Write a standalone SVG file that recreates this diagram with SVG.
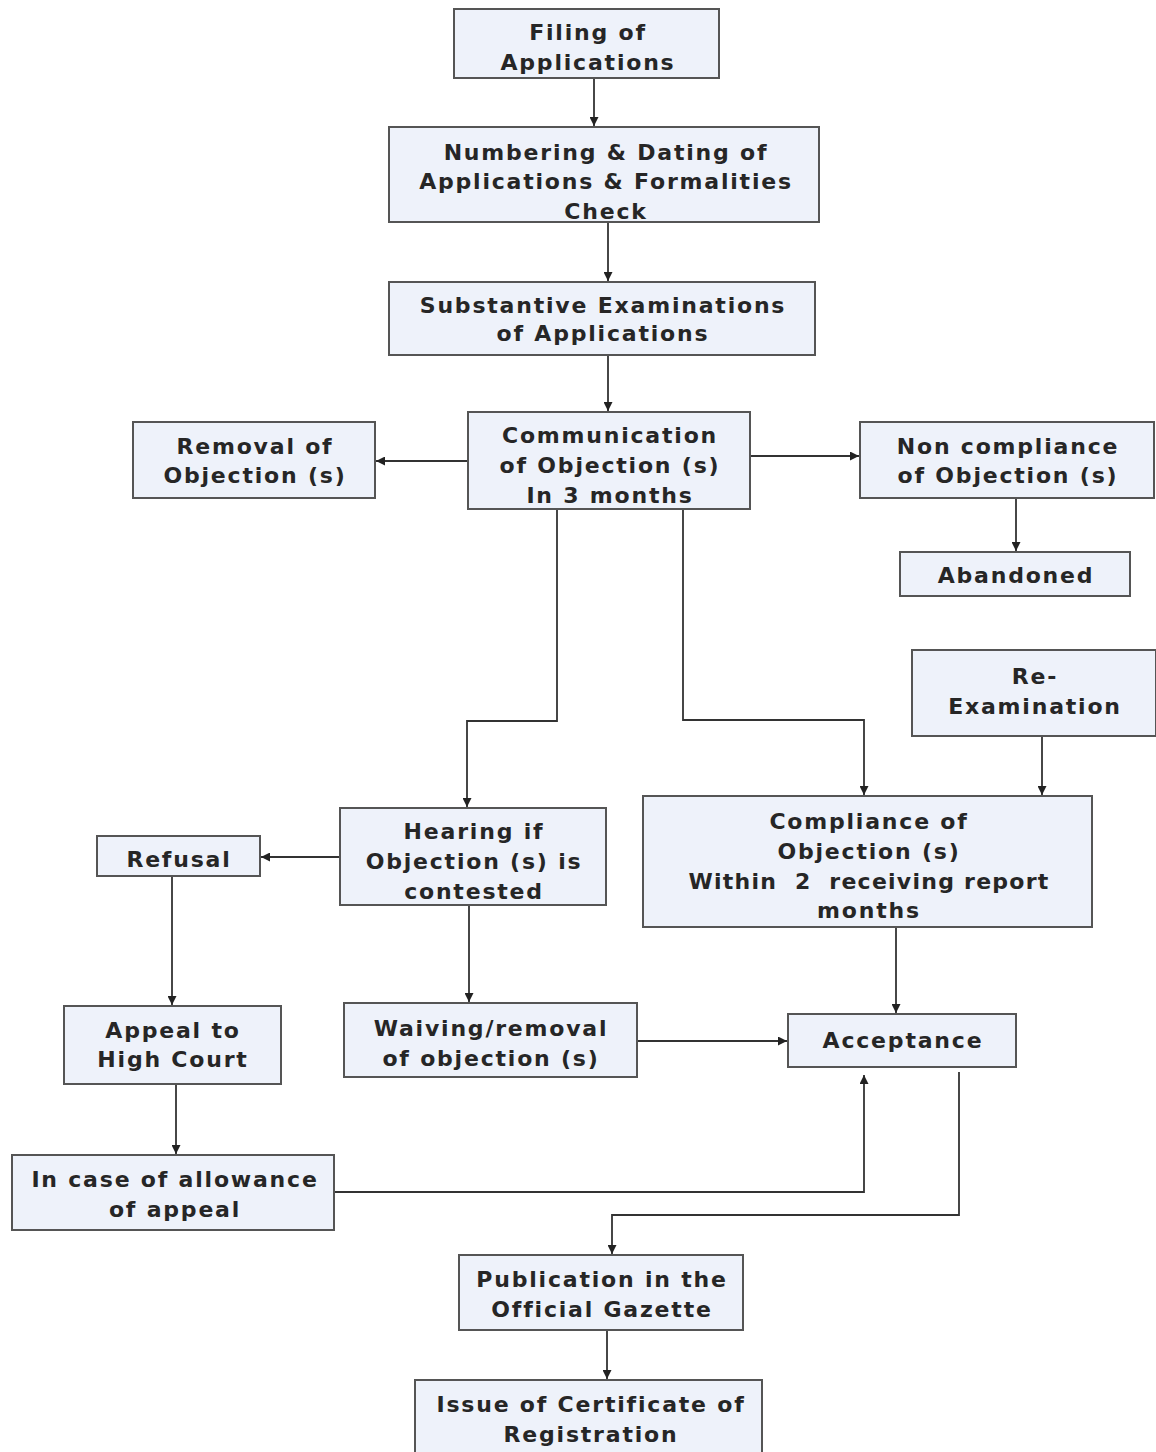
<svg xmlns="http://www.w3.org/2000/svg" width="1156" height="1452" viewBox="0 0 1156 1452">
<style>
.box{fill:#eef2fa;stroke:#555;stroke-width:2}
text{font-family:"DejaVu Sans",Verdana,sans-serif;font-weight:bold;font-size:22px;fill:#262626;text-anchor:middle;letter-spacing:1.8px}
.pre{white-space:pre;letter-spacing:1.25px}
.c{fill:none;stroke:#333;stroke-width:1.8}
</style>
<defs>
<marker id="ah" viewBox="0 0 10 10" refX="10" refY="5" markerWidth="10" markerHeight="9" markerUnits="userSpaceOnUse" orient="auto">
<path d="M0,0 L10,5 L0,10 z" fill="#222"/>
</marker>
</defs>
<rect width="1156" height="1452" fill="#fff"/>
<g id="connectors">
<path class="c" d="M594,78 V126" marker-end="url(#ah)"/>
<path class="c" d="M608,222 V281" marker-end="url(#ah)"/>
<path class="c" d="M608,355 V411" marker-end="url(#ah)"/>
<path class="c" d="M468,461 H376" marker-end="url(#ah)"/>
<path class="c" d="M750,456 H859" marker-end="url(#ah)"/>
<path class="c" d="M1016,498 V551" marker-end="url(#ah)"/>
<path class="c" d="M557,509 V721 H467 V807" marker-end="url(#ah)"/>
<path class="c" d="M683,509 V720 H864 V795" marker-end="url(#ah)"/>
<path class="c" d="M1042,736 V795" marker-end="url(#ah)"/>
<path class="c" d="M340,857 H261" marker-end="url(#ah)"/>
<path class="c" d="M172,876 V1005" marker-end="url(#ah)"/>
<path class="c" d="M469,905 V1002" marker-end="url(#ah)"/>
<path class="c" d="M896,927 V1013" marker-end="url(#ah)"/>
<path class="c" d="M637,1041 H787" marker-end="url(#ah)"/>
<path class="c" d="M176,1084 V1154" marker-end="url(#ah)"/>
<path class="c" d="M334,1192 H864 V1075" marker-end="url(#ah)"/>
<path class="c" d="M959,1072 V1215 H612 V1254" marker-end="url(#ah)"/>
<path class="c" d="M607,1330 V1379" marker-end="url(#ah)"/>
</g>
<g id="filing"><rect class="box" x="454" y="9" width="265" height="69"/><text x="588" y="40">Filing of</text><text x="588" y="70">Applications</text></g>
<g id="numbering"><rect class="box" x="389" y="127" width="430" height="95"/><text x="606" y="160">Numbering &amp; Dating of</text><text x="606" y="189">Applications &amp; Formalities</text><text x="606" y="219">Check</text></g>
<g id="substantive"><rect class="box" x="389" y="282" width="426" height="73"/><text x="603" y="313">Substantive Examinations</text><text x="603" y="341">of Applications</text></g>
<g id="communication"><rect class="box" x="468" y="412" width="282" height="97"/><text x="610" y="443">Communication</text><text x="610" y="473">of Objection (s)</text><text x="610" y="503">In 3 months</text></g>
<g id="removal"><rect class="box" x="133" y="422" width="242" height="76"/><text x="255" y="454">Removal of</text><text x="255" y="483">Objection (s)</text></g>
<g id="noncompliance"><rect class="box" x="860" y="422" width="294" height="76"/><text x="1008" y="454">Non compliance</text><text x="1008" y="483">of Objection (s)</text></g>
<g id="abandoned"><rect class="box" x="900" y="552" width="230" height="44"/><text x="1016" y="583">Abandoned</text></g>
<g id="reexamination"><rect class="box" x="912" y="650" width="244" height="86"/><text x="1035" y="684">Re-</text><text x="1035" y="714">Examination</text></g>
<g id="hearing"><rect class="box" x="340" y="808" width="266" height="97"/><text x="474" y="839">Hearing if</text><text x="474" y="869">Objection (s) is</text><text x="474" y="899">contested</text></g>
<g id="compliance"><rect class="box" x="643" y="796" width="449" height="131"/><text x="869" y="829">Compliance of</text><text x="869" y="859">Objection (s)</text><text class="pre" x="869" y="889">Within  2  receiving report</text><text x="869" y="918">months</text></g>
<g id="refusal"><rect class="box" x="97" y="836" width="163" height="40"/><text x="179" y="867">Refusal</text></g>
<g id="appeal"><rect class="box" x="64" y="1006" width="217" height="78"/><text x="173" y="1038">Appeal to</text><text x="173" y="1067">High Court</text></g>
<g id="waiving"><rect class="box" x="344" y="1003" width="293" height="74"/><text x="491" y="1036">Waiving/removal</text><text x="491" y="1066">of objection (s)</text></g>
<g id="acceptance"><rect class="box" x="788" y="1014" width="228" height="53"/><text x="903" y="1048">Acceptance</text></g>
<g id="allowance"><rect class="box" x="12" y="1155" width="322" height="75"/><text x="175" y="1187">In case of allowance</text><text x="175" y="1217">of appeal</text></g>
<g id="publication"><rect class="box" x="459" y="1255" width="284" height="75"/><text x="602" y="1287">Publication in the</text><text x="602" y="1317">Official Gazette</text></g>
<g id="issue"><rect class="box" x="415" y="1380" width="347" height="80"/><text x="591" y="1412">Issue of Certificate of</text><text x="591" y="1442">Registration</text></g>
</svg>
